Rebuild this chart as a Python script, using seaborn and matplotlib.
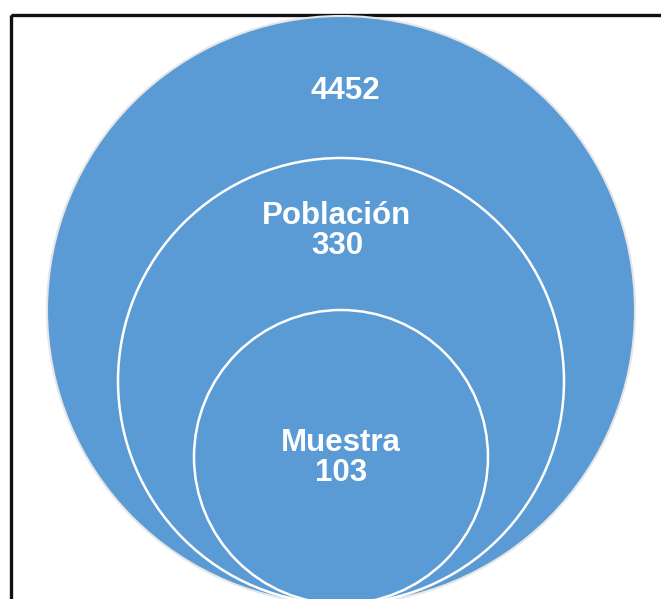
import matplotlib.pyplot as plt
import seaborn as sns
from matplotlib.patches import Circle, Rectangle

# nested circles, outer to inner
labels = ["", "Población", "Muestra"]
values = [4452, 330, 103]

sns.set_theme(style="white")
plt.rcParams['font.family'] = ['Liberation Sans', 'DejaVu Sans']

fill = "#5b9bd5"

fig = plt.figure(figsize=(6.61, 5.99), dpi=100)
ax = fig.add_axes([0, 0, 1, 1])
ax.set_xlim(0, 661)
ax.set_ylim(599, 0)
ax.set_aspect('equal')
ax.axis('off')

# frame (only left/top edges visible in the crop)
ax.add_patch(Rectangle((11, 15), 700, 700, fill=False, edgecolor="#111111", lw=2.4))

bottom = 604
cx = 341
radii = [294, 223, 147]
edges = ["#e6e6e6", "white", "white"]
widths = [1.5, 1.8, 1.8]
text_y = [91, 231, 458]
text_x = [345, 337, 341]

for r, ec, lw in zip(radii, edges, widths):
    ax.add_patch(Circle((cx, bottom - r), r, facecolor=fill, edgecolor=ec, lw=lw))

for lab, val, tx, ty in zip(labels, values, text_x, text_y):
    txt = f"{lab}\n{val}" if lab else str(val)
    ax.text(tx, ty, txt, ha='center', va='center', color='white',
            fontsize=22.5, fontweight='bold', linespacing=0.98)

plt.savefig('out.png', dpi=100)
plt.close()
